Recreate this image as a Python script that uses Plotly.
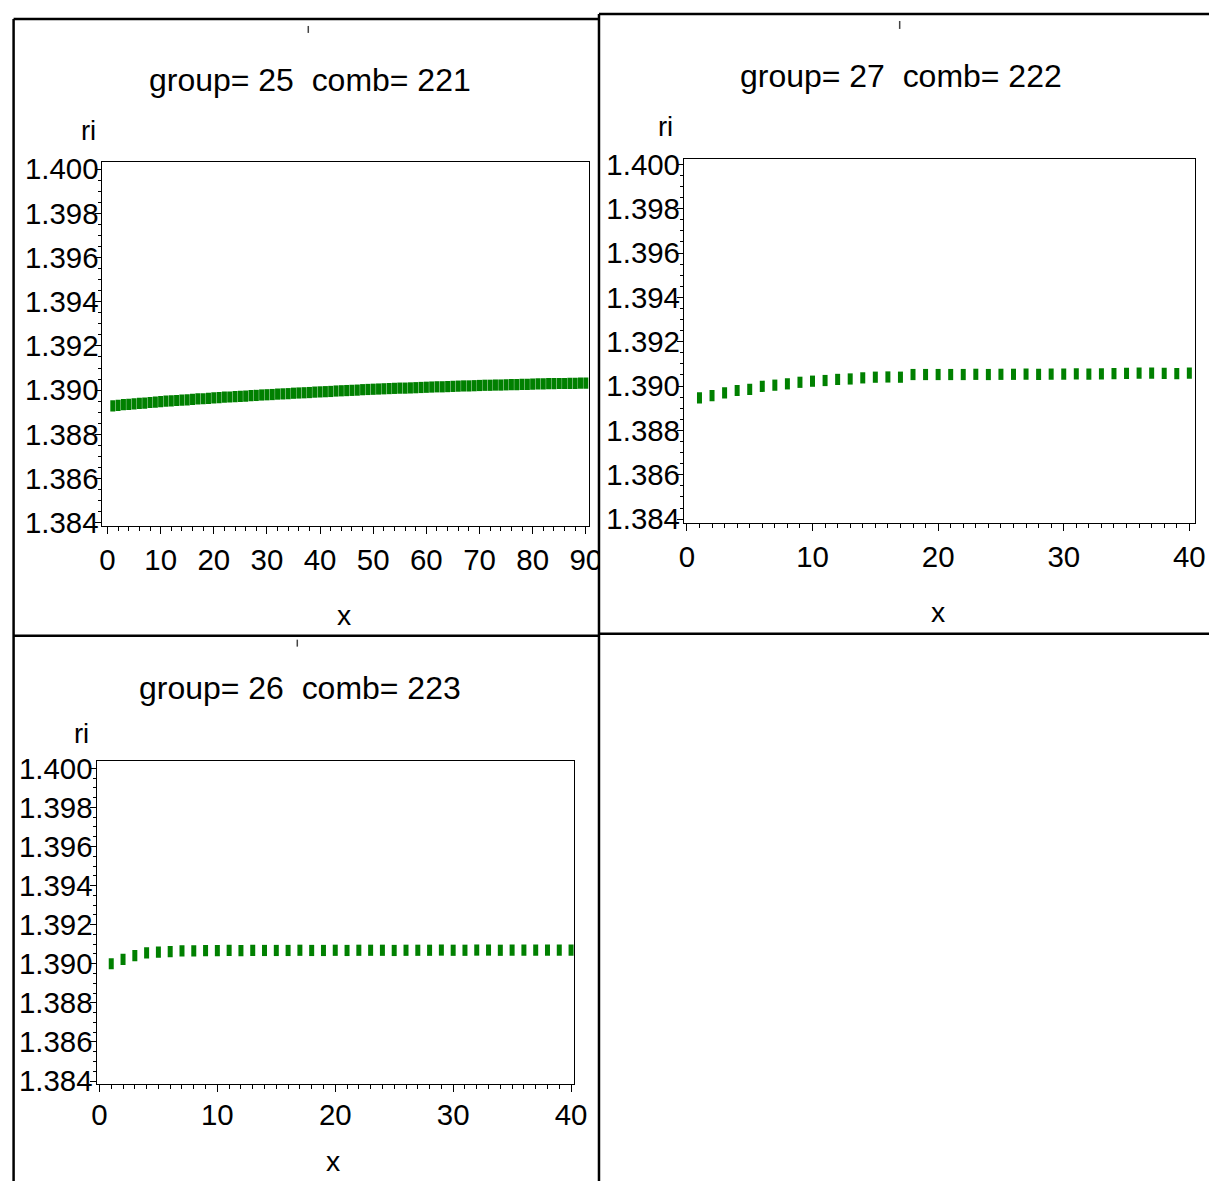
import plotly.graph_objects as go

# ---------------- data ----------------
x_p1 = list(range(1, 91))
ri_p1 = [
    1.38929, 1.38931, 1.38934, 1.38936, 1.38938, 1.38940, 1.38941, 1.38944, 1.38946, 1.38948,
    1.38950, 1.38951, 1.38953, 1.38955, 1.38956, 1.38958, 1.38960, 1.38961, 1.38963, 1.38965,
    1.38966, 1.38968, 1.38969, 1.38971, 1.38972, 1.38973, 1.38975, 1.38976, 1.38978, 1.38979,
    1.38980, 1.38982, 1.38983, 1.38984, 1.38986, 1.38987, 1.38988, 1.38989, 1.38991, 1.38992,
    1.38993, 1.38994, 1.38996, 1.38997, 1.38998, 1.38999, 1.39000, 1.39002, 1.39003, 1.39004,
    1.39005, 1.39006, 1.39007, 1.39008, 1.39009, 1.39009, 1.39010, 1.39011, 1.39012, 1.39013,
    1.39014, 1.39015, 1.39015, 1.39016, 1.39017, 1.39018, 1.39019, 1.39019, 1.39020, 1.39021,
    1.39022, 1.39022, 1.39023, 1.39023, 1.39024, 1.39025, 1.39025, 1.39026, 1.39026, 1.39027,
    1.39028, 1.39028, 1.39029, 1.39029, 1.39030, 1.39030, 1.39031, 1.39031, 1.39032, 1.39032,
]

x_p2 = list(range(1, 41))
ri_p2 = [
    1.38947, 1.38957, 1.38969, 1.38980, 1.38985, 1.38999, 1.39004, 1.39010, 1.39017, 1.39022,
    1.39025, 1.39030, 1.39032, 1.39037, 1.39040, 1.39041, 1.39040, 1.39052, 1.39052, 1.39052,
    1.39052, 1.39052, 1.39053, 1.39052, 1.39053, 1.39053, 1.39054, 1.39053, 1.39054, 1.39054,
    1.39055, 1.39054, 1.39055, 1.39056, 1.39057, 1.39058, 1.39058, 1.39057, 1.39056, 1.39058,
]

x_p3 = list(range(1, 41))
ri_p3 = [
    1.39000, 1.39022, 1.39042, 1.39056, 1.39059, 1.39062, 1.39066, 1.39066, 1.39067, 1.39067,
    1.39068, 1.39067, 1.39068, 1.39068, 1.39068, 1.39068, 1.39069, 1.39068, 1.39068, 1.39069,
    1.39068, 1.39069, 1.39069, 1.39069, 1.39068, 1.39069, 1.39069, 1.39069, 1.39070, 1.39069,
    1.39069, 1.39070, 1.39070, 1.39069, 1.39070, 1.39070, 1.39070, 1.39070, 1.39070, 1.39070,
]

titles = ["group= 25  comb= 221", "group= 27  comb= 222", "group= 26  comb= 223"]
y_label = "ri"
x_label = "x"

# ---------------- layout helpers ----------------
# figure size; positions below are given in target-image pixels and
# converted to figure fractions
W, H = 1223, 1193
SX, OX = 0.9863, 3.4
SY, OY = 0.9827, 9.0
K = 1.015  # text size compensation
FONT = "Liberation Sans, Arial, sans-serif"
GREEN = "#008000"


def px(p):
    return ((p - OX) / SX) / W


def py(p):
    return 1 - ((p - OY) / SY) / H


fig = go.Figure()

series = [(x_p1, ri_p1), (x_p2, ri_p2), (x_p3, ri_p3)]
for i, (xs, ys) in enumerate(series):
    suffix = "" if i == 0 else str(i + 1)
    fig.add_trace(go.Scatter(
        x=xs, y=ys, mode="markers",
        xaxis="x" + suffix, yaxis="y" + suffix,
        marker=dict(symbol="line-ns", size=8,
                    line=dict(width=5, color=GREEN), color=GREEN),
        showlegend=False, hoverinfo="skip",
    ))

# panel frames (pixels): left, right, top, bottom, x-range, y-range, minor dtick
panels = [
    dict(l=101, r=588, t=160, b=525, xr=[-0.94, 90.6], yr=[1.38385, 1.40030], minor=2, so=1),
    dict(l=683, r=1195, t=157, b=522, xr=[-0.24, 40.48], yr=[1.38382, 1.40022], minor=1, so=1),
    dict(l=95, r=573, t=761, b=1085, xr=[-0.25, 40.25], yr=[1.38385, 1.40036], minor=1, so=-2),
]

axis_font = dict(family=FONT, size=29 * K, color="black")
layout = dict(
    width=W, height=H,
    margin=dict(l=0, r=0, t=0, b=0, pad=0),
    paper_bgcolor="white", plot_bgcolor="white",
    font=dict(family=FONT, color="black"),
    showlegend=False,
)
for i, p in enumerate(panels):
    suffix = "" if i == 0 else str(i + 1)
    layout["xaxis" + suffix] = dict(
        domain=[px(p["l"]), px(p["r"])], range=p["xr"],
        anchor="y" + suffix,
        showline=True, mirror=True, linecolor="black", linewidth=1,
        showgrid=False, zeroline=False,
        ticks="outside", ticklen=7, tickwidth=1, tickcolor="black",
        tick0=0, dtick=10, tickfont=axis_font, ticklabelstandoff=p["so"],
        minor=dict(ticks="outside", ticklen=4, tickwidth=1, tickcolor="black",
                   dtick=p["minor"], tick0=0, showgrid=False),
    )
    layout["yaxis" + suffix] = dict(
        domain=[py(p["b"]), py(p["t"])], range=p["yr"],
        anchor="x" + suffix,
        showline=True, mirror=True, linecolor="black", linewidth=1,
        showgrid=False, zeroline=False,
        ticks="outside", ticklen=6, tickwidth=1, tickcolor="black",
        tick0=1.384, dtick=0.002, tickformat=".3f", tickfont=axis_font,
        ticklabelstandoff=-9,
        minor=dict(ticks="outside", ticklen=3, tickwidth=1, tickcolor="black",
                   dtick=0.0005, tick0=1.384, showgrid=False),
    )

fig.update_layout(**layout)

# titles and axis labels
title_pos = [(309, 77), (900, 73), (299, 688)]
ri_pos = [(87, 128), (665, 124), (80, 733)]
x_pos = [(343, 614), (937, 611), (332, 1162)]
annots = []
for i in range(3):
    annots.append(dict(x=px(title_pos[i][0]), y=py(title_pos[i][1]), xref="paper", yref="paper",
                       text=titles[i], showarrow=False, xanchor="center", yanchor="middle",
                       font=dict(family=FONT, size=31.5 * K, color="black")))
    annots.append(dict(x=px(ri_pos[i][0]), y=py(ri_pos[i][1]), xref="paper", yref="paper",
                       text=y_label, showarrow=False, xanchor="center", yanchor="middle",
                       font=dict(family=FONT, size=27 * K, color="black")))
    annots.append(dict(x=px(x_pos[i][0]), y=py(x_pos[i][1]), xref="paper", yref="paper",
                       text=x_label, showarrow=False, xanchor="center", yanchor="middle",
                       font=dict(family=FONT, size=28 * K, color="black")))
fig.update_layout(annotations=annots)

# panel borders and small marks
shapes = []


def seg(x0, y0, x1, y1, w=2.5, color="black", layer="above"):
    shapes.append(dict(type="line", xref="paper", yref="paper",
                       x0=px(x0), y0=py(y0), x1=px(x1), y1=py(y1),
                       line=dict(color=color, width=w), layer=layer))


# cover the overflow of panel 1's last tick label beyond its border
shapes.append(dict(type="rect", xref="paper", yref="paper",
                   x0=px(598), x1=px(640), y0=py(585), y1=py(538),
                   fillcolor="white", line=dict(width=0), layer="above"))

seg(12, 16, 598, 16)
seg(12, 16, 12, 1185)
seg(598, 11, 598, 1185)
seg(12, 635, 598, 635)
seg(598, 11, 1215, 11)
seg(598, 633, 1215, 633)
seg(307, 23, 307, 30, w=1.5, color="#444")
seg(899, 18, 899, 26, w=1.5, color="#444")
seg(296, 639, 296, 646, w=1.5, color="#444")
fig.update_layout(shapes=shapes)

fig.write_html(
    "out.html",
    config={"displayModeBar": False},
    post_script="document.body.style.margin='0';",
)
